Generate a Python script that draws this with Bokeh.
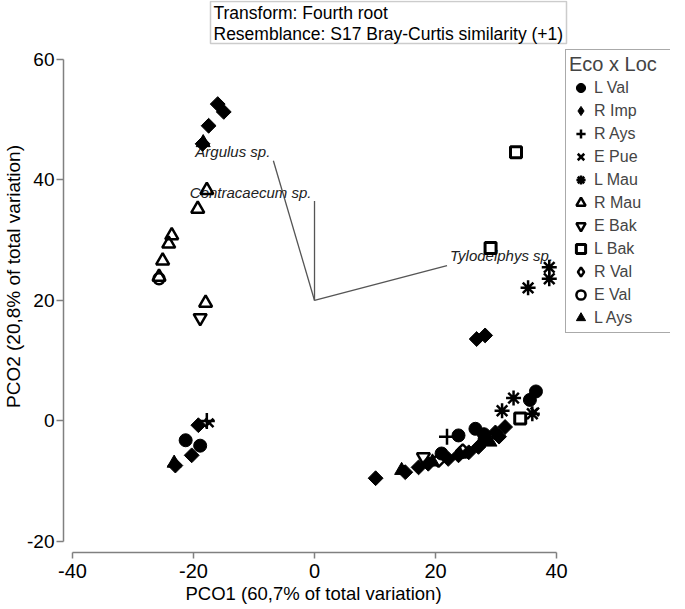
import math
from bokeh.plotting import figure
from bokeh.models import (Range1d, FixedTicker, Legend, LegendItem, Label,
                          Title, BoxAnnotation)
from bokeh.embed import file_html
from bokeh.resources import INLINE
from bokeh.core.properties import value

# ---------------- data ----------------
groups = ["L Val", "R Imp", "R Ays", "E Pue", "L Mau", "R Mau",
          "E Bak", "L Bak", "R Val", "E Val", "L Ays"]

lval_x = [-21.3, -18.9, 36.6, 35.6, 26.6, 23.8, 28.0, 21.0]
lval_y = [-3.2, -4.1, 4.9, 3.5, -1.3, -2.4, -2.2, -5.4]

rimp_x = [-16.0, -15.0, -17.5, -18.5, -19.2, -20.3, -23.0, 26.8, 28.2,
          10.1, 15.0, 17.2, 18.8, 22.1, 23.8, 25.5, 27.1, 28.2, 29.9, 31.5, 30.5]
rimp_y = [52.6, 51.3, 49.0, 46.0, -0.7, -5.7, -7.4, 13.6, 14.2,
          -9.5, -8.5, -7.7, -7.1, -6.3, -5.7, -5.2, -4.3, -3.0, -1.9, -1.0, -2.6]

rays_x = [-17.8, 21.9]
rays_y = [0.0, -2.6]

epue_x = [-17.4, 36.4]
epue_y = [-0.3, 1.5]

lmau_x = [38.8, 38.8, 35.3, 32.9, 31.0, 36.0]
lmau_y = [25.5, 23.6, 22.1, 3.8, 1.7, 1.2]

rmau_x = [-17.8, -19.3, -23.6, -24.1, -25.1, -25.7, -18.0]
rmau_y = [38.3, 35.2, 30.8, 29.4, 26.6, 23.9, 19.6]

ebak_x = [-18.9, 18.0]
ebak_y = [17.1, -6.0]

lbak_x = [33.3, 29.1, 34.0]
lbak_y = [44.6, 28.7, 0.4]

rval_x = [20.5, 24.5]
rval_y = [-6.5, -5.0]

eval_x = [-25.7]
eval_y = [23.6]

lays_x = [14.4, 19.5, 24.0, 29.0, -23.2, -18.4]
lays_y = [-8.2, -6.8, -5.5, -3.5, -7.0, 46.2]

vec_names = ["Argulus sp.", "Contracaecum sp.", "Tylodelphys sp."]
vec_end_x = [-6.8, 0.0, 21.9]
vec_end_y = [43.2, 36.5, 25.8]
vec_origin_x = 0.0
vec_origin_y = 20.0

x_ticks = [-40, -20, 0, 20, 40]
y_ticks = [-20, 0, 20, 40, 60]

x_title = "PCO1 (60,7% of total variation)"
y_title = "PCO2 (20,8% of total variation)"
info_lines = ["Transform: Fourth root",
              "Resemblance: S17 Bray-Curtis similarity (+1)"]
legend_title = "Eco x Loc"

# ---------------- figure ----------------
FONT = "Liberation Sans"
AX = "#808080"
FRAME_W, FRAME_H = 607, 552

p = figure(frame_width=FRAME_W, frame_height=FRAME_H,
           x_range=Range1d(-41.49, 58.84), y_range=Range1d(-21.83, 69.79),
           output_backend="svg", toolbar_location=None,
           min_border_left=62, min_border_right=0,
           min_border_top=0, min_border_bottom=55)
p.xgrid.visible = False
p.ygrid.visible = False
p.outline_line_color = None
p.background_fill_color = "white"
p.border_fill_color = "white"

for ax in (p.xaxis[0], p.yaxis[0]):
    ax.axis_line_color = AX
    ax.axis_line_width = 1.5
    ax.major_tick_line_color = AX
    ax.major_tick_line_width = 1.5
    ax.major_tick_in = 0
    ax.minor_tick_line_color = None
    ax.major_label_text_font = FONT
    ax.major_label_text_color = "black"
    ax.axis_label_text_font = FONT
    ax.axis_label_text_font_style = "normal"
    ax.axis_label_text_color = "black"
    ax.axis_label_standoff = 0

p.xaxis.ticker = FixedTicker(ticks=x_ticks)
p.yaxis.ticker = FixedTicker(ticks=y_ticks)
p.xaxis.major_label_overrides = {t: str(t) for t in x_ticks}
p.yaxis.major_label_overrides = {t: str(t) for t in y_ticks}
p.xaxis.bounds = (x_ticks[0], x_ticks[-1])
p.yaxis.bounds = (y_ticks[0], y_ticks[-1])
p.xaxis.major_tick_out = 6
p.yaxis.major_tick_out = 7
p.xaxis.major_label_standoff = 5
p.yaxis.major_label_standoff = 2
p.xaxis.major_label_text_font_size = "20px"
p.yaxis.major_label_text_font_size = "19px"
p.yaxis.axis_label = y_title
p.yaxis.axis_label_text_font_size = "19px"

# x-axis title, centred under x = 0 as in the original
p.add_layout(Title(text=x_title, align="left", offset=122, standoff=0,
                   text_font=FONT, text_font_size="18.5px", text_font_style="normal",
                   text_color="black"), "below")

# ---------------- vectors ----------------
p.segment(x0=[vec_origin_x] * len(vec_end_x), y0=[vec_origin_y] * len(vec_end_y),
          x1=vec_end_x, y1=vec_end_y, line_color="#555555", line_width=1.3)
p.text(x=vec_end_x[:2], y=vec_end_y[:2], text=vec_names[:2],
       text_align="right", text_baseline="middle", x_offset=-3, y_offset=-9,
       text_font=value(FONT), text_font_style="italic", text_font_size="15px",
       text_color="#222222")
p.text(x=vec_end_x[2:], y=vec_end_y[2:], text=vec_names[2:],
       text_align="left", text_baseline="middle", x_offset=3, y_offset=-10,
       text_font=value(FONT), text_font_style="italic", text_font_size="15px",
       text_color="#222222")

# ---------------- points ----------------
D = math.pi / 4
series = [
    (lval_x, lval_y, dict(marker="circle", size=13, fill_color="black", line_width=1)),
    (rimp_x, rimp_y, dict(marker="square", size=10.5, angle=D, fill_color="black", line_width=1)),
    (rays_x, rays_y, dict(marker="cross", size=16, line_width=2.5)),
    (epue_x, epue_y, dict(marker="x", size=12, line_width=2.5)),
    (lmau_x, lmau_y, dict(marker="asterisk", size=15, line_width=2.5)),
    (rmau_x, rmau_y, dict(marker="triangle", size=13, fill_color=None, line_width=2.5)),
    (ebak_x, ebak_y, dict(marker="inverted_triangle", size=13, fill_color=None, line_width=2.5)),
    (lbak_x, lbak_y, dict(marker="square", size=11, fill_color=None, line_width=3)),
    (rval_x, rval_y, dict(marker="square", size=9.5, angle=D, fill_color=None, line_width=2.5)),
    (eval_x, eval_y, dict(marker="circle", size=11, fill_color=None, line_width=2.5)),
    (lays_x, lays_y, dict(marker="triangle", size=14, fill_color="black", line_width=1)),
]

items = []
for name, (xs, ys, st) in zip(groups, series):
    r = p.scatter(x=xs, y=ys, line_color="black", **st)
    if st.get("angle"):
        # rotated squares are not rotated in the legend: use a diamond key
        key = dict(st)
        key.pop("angle")
        key["marker"] = "diamond"
        r = p.scatter(x=[math.nan], y=[math.nan], line_color="black", **key)
    items.append(LegendItem(label=name, renderers=[r]))

legend = Legend(items=items, location=(502, 219), title=legend_title,
                title_text_font=FONT, title_text_font_size="20px",
                title_text_font_style="normal", title_standoff=0,
                label_text_font=FONT, label_text_font_size="16px",
                label_text_baseline="middle",
                glyph_width=23, glyph_height=23, label_height=23,
                spacing=0, label_standoff=2, label_width=74, padding=3, margin=0,
                border_line_color="#555555", border_line_width=1.5,
                background_fill_color="white", background_fill_alpha=1.0)
p.add_layout(legend, "center")

# ---------------- info box (screen units, relative to the frame) ----------------
p.add_layout(BoxAnnotation(left=147, right=503, top=551, bottom=509,
                           left_units="screen", right_units="screen",
                           top_units="screen", bottom_units="screen",
                           fill_color="white", fill_alpha=1.0,
                           line_color="#555555", line_width=1.5))
for txt, yy in zip(info_lines, [540, 519]):
    p.add_layout(Label(x=150, y=yy, x_units="screen", y_units="screen", text=txt,
                       text_align="left", text_baseline="middle",
                       text_font=FONT, text_font_size="17.5px", text_color="black"))

open("out.html", "w").write(file_html(p, INLINE))
